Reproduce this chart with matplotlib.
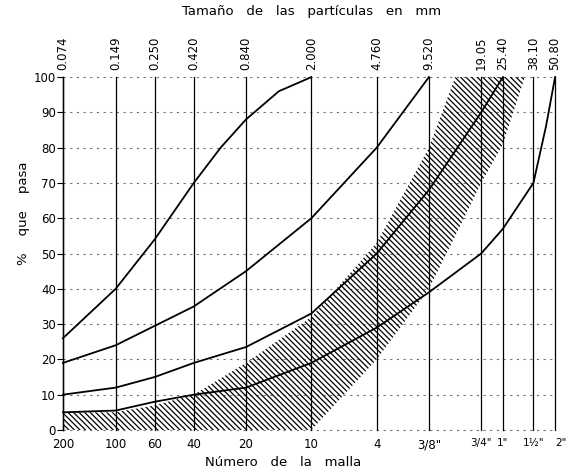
import matplotlib
matplotlib.use("Agg")
import matplotlib.pyplot as plt

# Sieve sizes (mm) and their labels
sizes = [0.074, 0.149, 0.250, 0.420, 0.840, 2.000, 4.760, 9.520, 19.05, 25.40, 38.10, 50.80]
size_labels = ["0.074", "0.149", "0.250", "0.420", "0.840", "2.000",
               "4.760", "9.520", "19.05", "25.40", "38.10", "50.80"]
mesh_labels = ["200", "100", "60", "40", "20", "10", "4",
               '3/8"', '3/4"', '1"', '1½"', '2"']

# Grading curves (% passing)
curve_a_x = [0.074, 0.149, 0.250, 0.420, 0.60, 0.840, 1.30, 2.000]
curve_a_y = [26, 40, 54, 70, 80, 88, 96, 100]

curve_b_x = [0.074, 0.149, 0.250, 0.420, 0.840, 2.000, 4.760, 9.520]
curve_b_y = [19, 24, 29.5, 35, 45, 60, 80, 100]

curve_c_x = [0.074, 0.149, 0.250, 0.420, 0.840, 2.000, 4.760, 9.520, 19.05, 25.40]
curve_c_y = [10, 12, 15, 19, 23.5, 33, 50, 68, 90, 100]

curve_d_x = [0.074, 0.149, 0.250, 0.420, 0.840, 2.000, 4.760, 9.520, 19.05, 25.40, 38.10, 45.0, 50.80]
curve_d_y = [5, 5.5, 8, 10, 12, 19, 29, 39, 50, 57, 70, 86, 100]

# Specification band (hatched zone)
band_x = [0.074, 0.149, 0.250, 0.420, 0.840, 2.000, 4.760, 9.520, 13.5, 19.05, 25.40, 34.0]
band_upper = [5, 5, 7, 10, 19, 32, 53, 80, 100, 100, 100, 100]
band_lower = [0, 0, 0, 0, 0, 0, 20, 40, 55, 70, 81, 100]

plt.rcParams["hatch.linewidth"] = 0.9

fig = plt.figure(figsize=(5.67, 4.73), dpi=100)
ax = fig.add_axes([0.111, 0.091, 0.868, 0.746])
ax.set_xscale("log")
ax.set_xlim(sizes[0], sizes[-1])
ax.set_ylim(0, 100)

# dotted horizontal grid
for p in range(0, 101, 10):
    ax.axhline(p, color="0.45", lw=0.8, ls=(0, (2, 4)), zorder=1, clip_on=False)

# vertical sieve lines
for s in sizes:
    ax.axvline(s, color="black", lw=0.9, zorder=2, clip_on=False)

ax.fill_between(band_x, band_lower, band_upper, facecolor="none",
                edgecolor="black", hatch="\\\\\\\\\\\\", linewidth=0, zorder=1.5)

for xs, ys in [(curve_a_x, curve_a_y), (curve_b_x, curve_b_y),
               (curve_c_x, curve_c_y), (curve_d_x, curve_d_y)]:
    ax.plot(xs, ys, color="black", lw=1.3, zorder=3, clip_on=False)

for sp in ["top", "right", "bottom"]:
    ax.spines[sp].set_visible(False)
ax.spines["left"].set_linewidth(1.0)

ax.set_yticks(range(0, 101, 10))
ax.tick_params(axis="y", length=4, labelsize=8.5, pad=1)
ax.set_xticks(sizes)
ax.set_xticklabels(mesh_labels, fontsize=8.5)
ax.xaxis.set_minor_locator(matplotlib.ticker.NullLocator())
ax.tick_params(axis="x", length=0, pad=6)
for lab in ax.get_xticklabels()[-4:]:
    lab.set_fontsize(7.5)
ax.get_xticklabels()[-1].set_horizontalalignment("left")

for s, lab in zip(sizes, size_labels):
    ax.text(s, 102, lab, rotation=90, ha="center", va="bottom", fontsize=8.5,
            clip_on=False)

fig.text(0.55, 0.975, "Tamaño   de   las   partículas   en   mm",
         ha="center", va="center", fontsize=9.5)
fig.text(0.50, 0.022, "Número   de   la   malla",
         ha="center", va="center", fontsize=9.5)
fig.text(0.042, 0.55, "%    que    pasa", rotation=90,
         ha="center", va="center", fontsize=9.5)

fig.savefig("out.png", dpi=100)
